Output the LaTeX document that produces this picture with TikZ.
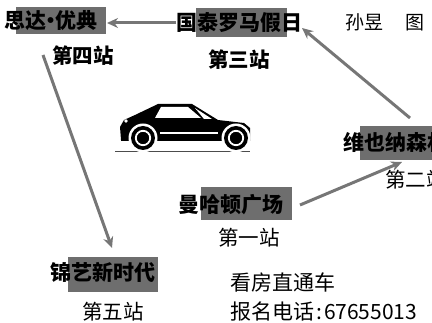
\documentclass[tikz,border=0pt]{standalone}
\usepackage{fontspec}
\usetikzlibrary{arrows.meta}
\newfontfamily\cjk{Noto Sans CJK SC}
\definecolor{routegray}{HTML}{767676}
\definecolor{boxgray}{HTML}{6E6E6E}
\tikzset{
  stopname/.style={font={\cjk\bfseries\fontsize{21pt}{21pt}\selectfont}, anchor=base west, inner sep=0pt},
  stopnum/.style={font={\cjk\fontsize{20.5pt}{20.5pt}\selectfont}, anchor=base west, inner sep=0pt},
  stopnumbold/.style={font={\cjk\bfseries\fontsize{20.5pt}{20.5pt}\selectfont}, anchor=base west, inner sep=0pt},
  infotext/.style={font={\cjk\fontsize{21pt}{21pt}\selectfont}, anchor=base west, inner sep=0pt},
  route/.style={draw=routegray, line width=3pt, -{Stealth[length=11pt,width=10pt]}},
  hilite/.style={fill=boxgray},
}
\begin{document}
\begin{tikzpicture}[x=1pt,y=-1pt]
\useasboundingbox (0,0) rectangle (432,323);
\clip (0,0) rectangle (432,323);

% highlight bars behind the stop names
\fill[hilite] (16,7) rectangle (106,34);
\fill[hilite] (196,8) rectangle (287,37);
\fill[hilite] (360,126) rectangle (440,160);
\fill[hilite] (201,187) rectangle (292,220);
\fill[hilite] (68,257) rectangle (158,292);

% stop names
\node[stopname] (sida)   at (4,29)    {思达\kern-6pt·\kern-6pt优典};
\node[stopname] (guotai) at (176,31)  {国泰罗马假日};
\node[stopname] (weiye)  at (343,151) {维也纳森林};
\node[stopname] (manha)  at (178,213) {曼哈顿广场};
\node[stopname] (jinyi)  at (50,281)  {锦艺新时代};

% stop numbers
\node[stopnumbold] (s4) at (52,64)  {第四站};
\node[stopnumbold] (s3) at (208,68) {第三站};
\node[stopnum]     (s2) at (385,188) {第二站};
\node[stopnum]     (s1) at (218,246) {第一站};
\node[stopnum]     (s5) at (82,320)  {第五站};

% credit and contact
\node[infotext, font={\cjk\fontsize{19pt}{19pt}\selectfont}] (credit) at (345,30) {孙昱\hspace{22pt}图};
\node[infotext] (bus)   at (230,291) {看房直通车};
\node[infotext] (phone) at (230,320) {报名电话\kern2pt:\kern2pt67655013};

% route endpoints
\coordinate (a1) at (300,205);
\coordinate (a2) at (402,162);
\coordinate (b1) at (410,118);
\coordinate (b2) at (302,28);
\coordinate (c1) at (176,23);
\coordinate (c2) at (107,23);
\coordinate (d1) at (43,55);
\coordinate (d2) at (112,248);

\draw[route] (a1) -- (a2);
\draw[route] (b1) -- (b2);
\draw[route] (c1) -- (c2);
\draw[route] (d1) -- (d2);

% car silhouette
\draw[black!70, line width=0.8pt] (115,151) -- (250,151);
\fill[black] (121,140) -- (120,127) -- (124,120) -- (135,115) -- (158,104) -- (192,104)
  -- (218,120) -- (244,123) -- (250,128) -- (250,141) -- (121,141) -- cycle;
\fill[white] (161,107) -- (188,107) -- (201,118) -- (155,118) -- cycle;
\fill[white] (195,108) -- (212,119) -- (204,119) -- cycle;
\draw[white, line width=1.3pt] (160,133) -- (218,133);
\fill[white] (126,121) circle (1.8);
\fill[white] (143,138) circle (14.5);
\fill[white] (236,138) circle (14.5);
\foreach \cx in {143,236} {
  \fill[black] (\cx,138) circle (12);
  \draw[white, line width=1.8pt] (\cx,138) circle (7.2);
  \fill[black] (\cx,138) circle (5.5);
}
\end{tikzpicture}
\end{document}
